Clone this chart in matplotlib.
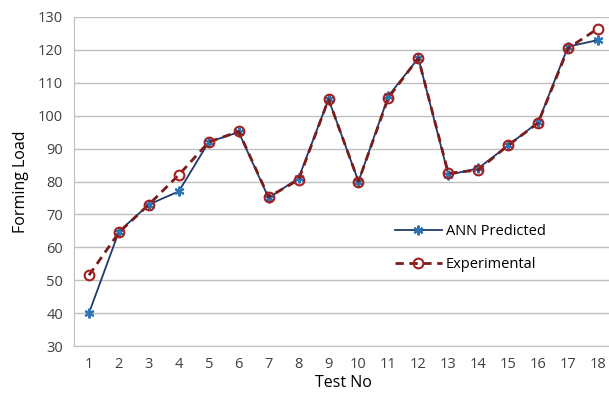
import matplotlib.pyplot as plt

# Datos
test_no = list(range(1, 19))
ann_predicted = [40, 64.8, 73, 77, 92, 95, 75, 81, 105, 80, 106, 117.5, 82, 84, 91, 98, 121, 123]
experimental = [51.5, 64.5, 73, 82, 92, 95.2, 75.3, 80.5, 105, 80, 105.5, 117.5, 82.5, 83.5, 91, 97.8, 120.5, 126.5]
y_ticks = list(range(30, 131, 10))

plt.rcParams['font.family'] = ['Open Sans', 'DejaVu Sans']

fig = plt.figure(figsize=(6.09, 3.99), dpi=100)
ax = fig.add_axes([74/609, 53/399, 539/609, 329/399])

ax.plot(test_no, ann_predicted, color='#1F3A6B', linewidth=1.3, marker=(6, 2, 0),
        markersize=7, markeredgecolor='#2E75B6', markeredgewidth=1.5, label='ANN Predicted', zorder=3)
ax.plot(test_no, experimental, color='#7A1C1C', linewidth=2, linestyle=(0, (3, 2)), marker='o',
        markersize=7, markerfacecolor='none', markeredgecolor='#A52020', markeredgewidth=1.5,
        label='Experimental', zorder=4)

ax.set_xlim(0.5, 18.5)
ax.set_ylim(30, 130)
ax.set_xticks(test_no)
ax.set_yticks(y_ticks)
ax.grid(axis='y', color='#BFBFBF', linewidth=1)
ax.set_axisbelow(True)
for s in ['top', 'right']:
    ax.spines[s].set_visible(False)
ax.spines['left'].set_color('#BFBFBF')
ax.spines['bottom'].set_color('#BFBFBF')
ax.tick_params(length=0, labelsize=10.5, colors='#404040', pad=8)

ax.set_xlabel('Test No', fontsize=11.5, labelpad=2)
ax.set_ylabel('Forming Load', fontsize=11.5, labelpad=6)

ax.legend(loc='upper left', bbox_to_anchor=(0.571, 0.41), frameon=False, fontsize=10.5,
          handlelength=3.2, labelspacing=1.2, handletextpad=0.3)

plt.savefig('out.png', dpi=100)
